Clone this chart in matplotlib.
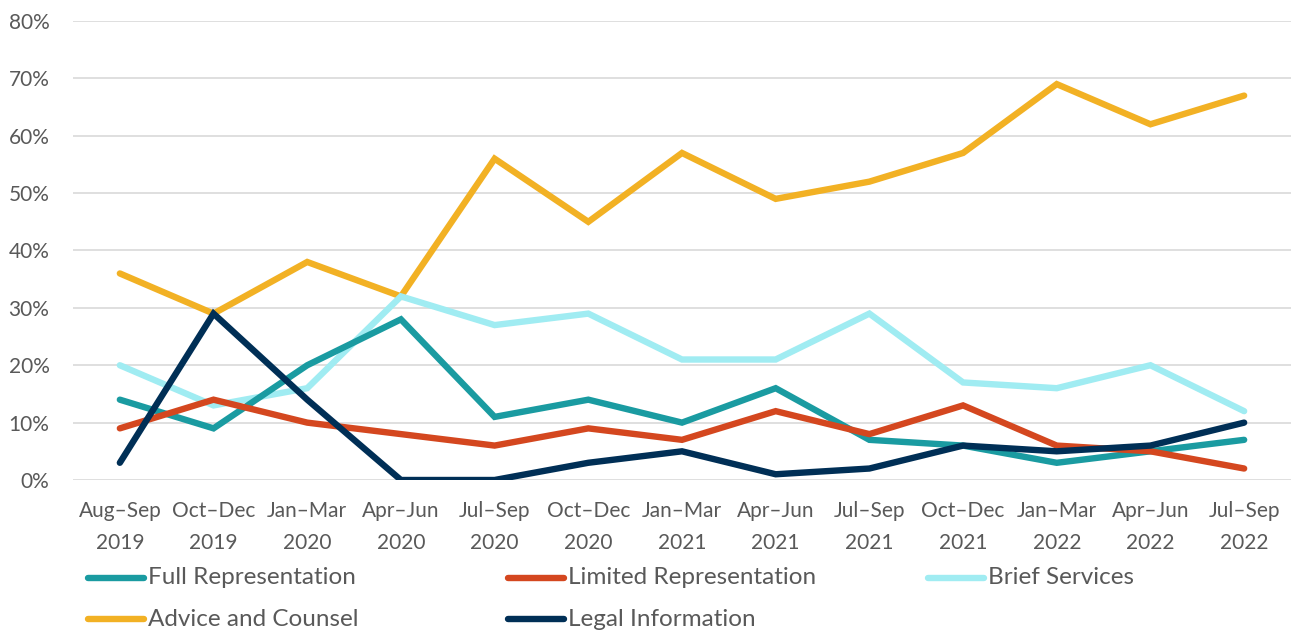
import matplotlib
matplotlib.use("Agg")
import matplotlib.pyplot as plt
from matplotlib.lines import Line2D
from matplotlib.ticker import PercentFormatter

periods = ["Aug–Sep\n2019", "Oct–Dec\n2019", "Jan–Mar\n2020", "Apr–Jun\n2020",
           "Jul–Sep\n2020", "Oct–Dec\n2020", "Jan–Mar\n2021", "Apr–Jun\n2021",
           "Jul–Sep\n2021", "Oct–Dec\n2021", "Jan–Mar\n2022", "Apr–Jun\n2022",
           "Jul–Sep\n2022"]

full_rep = [14, 9, 20, 28, 11, 14, 10, 16, 7, 6, 3, 5, 7]
limited_rep = [9, 14, 10, 8, 6, 9, 7, 12, 8, 13, 6, 5, 2]
brief_services = [20, 13, 16, 32, 27, 29, 21, 21, 29, 17, 16, 20, 12]
advice_counsel = [36, 29, 38, 32, 56, 45, 57, 49, 52, 57, 69, 62, 67]
legal_info = [3, 29, 14, 0, 0, 3, 5, 1, 2, 6, 5, 6, 10]

series = [
    ("Full Representation", full_rep, "#1A9BA1"),
    ("Limited Representation", limited_rep, "#D4471F"),
    ("Brief Services", brief_services, "#A0ECF2"),
    ("Advice and Counsel", advice_counsel, "#F2B124"),
    ("Legal Information", legal_info, "#002F56"),
]

plt.rcParams['font.family'] = ['Lato', 'DejaVu Sans']
text_color = "#595959"
W, H = 1291, 633
fig = plt.figure(figsize=(W / 100, H / 100), dpi=100)
ax = fig.add_axes([73 / W, 1 - 480 / H, (1291 - 73) / W, (480 - 21) / H])

x = list(range(len(periods)))
draw_order = ["Advice and Counsel", "Brief Services", "Full Representation",
              "Limited Representation", "Legal Information"]
lw = 4.6
for name in draw_order:
    for n, vals, c in series:
        if n == name:
            ax.plot(x, vals, color=c, lw=lw, solid_capstyle='round',
                    solid_joinstyle='miter', zorder=3)

ax.set_xlim(-0.5, len(periods) - 0.5)
ax.set_ylim(0, 80)
ax.set_yticks(range(0, 81, 10))
ax.yaxis.set_major_formatter(PercentFormatter(decimals=0))
ax.set_xticks(x)
ax.set_xticklabels(periods, linespacing=1.75)
ax.grid(axis='y', color="#D9D9D9", lw=1.2, zorder=0)
for s in ax.spines.values():
    s.set_visible(False)
ax.tick_params(axis='both', length=0, labelsize=15, colors=text_color)
ax.tick_params(axis='x', pad=15)
ax.tick_params(axis='y', pad=17)

# legend
cols = [88, 508, 928]
rows = [578, 619]
for i, (name, vals, c) in enumerate(series):
    cx = cols[i % 3]
    ry = rows[i // 3]
    fig.add_artist(Line2D([cx / W, (cx + 56) / W], [1 - ry / H, 1 - ry / H],
                          transform=fig.transFigure, color=c, lw=lw,
                          solid_capstyle='round'))
    fig.text((cx + 60) / W, 1 - ry / H, name, fontsize=17.5, color=text_color,
             va='center', ha='left')

fig.savefig("out.png", dpi=100)
